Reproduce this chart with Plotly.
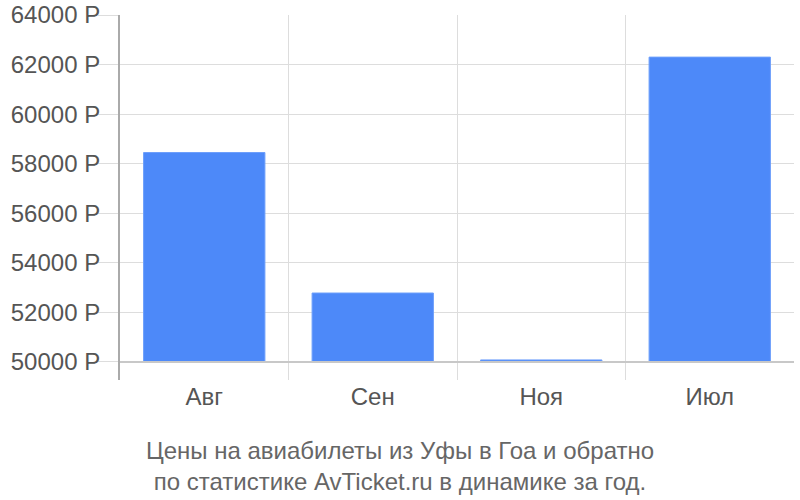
import plotly.graph_objects as go

months = ["Авг", "Сен", "Ноя", "Июл"]
prices = [58450, 52780, 50080, 62300]
base_price = 50000
y_ticks = [50000, 52000, 54000, 56000, 58000, 60000, 62000, 64000]
y_labels = [f"{v} Р" for v in y_ticks]
title_lines = ["Цены на авиабилеты из Уфы в Гоа и обратно",
               "по статистике AvTicket.ru в динамике за год."]

fig = go.Figure(go.Bar(
    x=months,
    y=[p - base_price for p in prices],
    base=base_price,
    width=0.72,
    marker=dict(color="#4d89f9", line=dict(color="#6d9ffb", width=1)),
))

fig.add_shape(type="line", xref="paper", yref="y", x0=0, x1=1,
              y0=base_price, y1=base_price,
              line=dict(color="#c8c8c8", width=2))

fig.update_layout(
    width=800, height=500,
    margin=dict(l=120, r=6, t=15, b=120),
    paper_bgcolor="white", plot_bgcolor="white",
    font=dict(family="Liberation Sans, Arial, sans-serif", size=24, color="#555"),
    showlegend=False,
    title=dict(text="<br>".join(title_lines), x=0.5, xanchor="center",
               yref="container", y=0.083, yanchor="top",
               font=dict(size=24, color="#666")),
    xaxis=dict(type="category", tickson="boundaries", range=[-0.5, 3.5],
               showgrid=True, gridcolor="#dddddd", gridwidth=1,
               ticks="", showline=False, zeroline=False, automargin=False,
               tickfont=dict(size=24, color="#555")),
    yaxis=dict(range=[49270, 64000], tickvals=y_ticks, ticktext=y_labels,
               showgrid=True, gridcolor="#dddddd", gridwidth=1,
               ticks="outside", ticklen=20, tickcolor="#dddddd",
               showline=True, linecolor="#aaaaaa", linewidth=2,
               zeroline=False, ticklabelstandoff=-7, automargin=False,
               ticklabeloverflow="allow",
               tickfont=dict(size=24, color="#555")),
)

# drop the default 8px body margin so the chart fills the window
fig.write_html("out.html", config={"displayModeBar": False},
               post_script="document.body.style.margin='0';")
